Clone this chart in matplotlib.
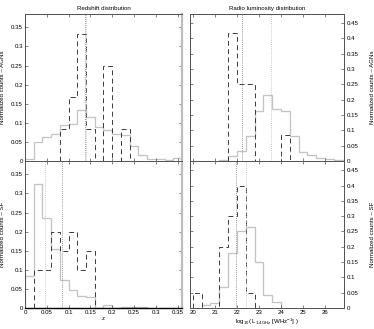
import numpy as np
import matplotlib
matplotlib.use('Agg')
from matplotlib import pyplot as plt

plt.rcParams['font.family'] = ['Liberation Sans', 'DejaVu Sans']
plt.rcParams['mathtext.fontset'] = 'custom'
plt.rcParams['mathtext.rm'] = 'Liberation Sans'
plt.rcParams['mathtext.it'] = 'Liberation Sans:italic'

# redshift bins (width 0.02)
z_parent_agn_start = 0.0
z_parent_agn       = [0.004, 0.050, 0.062, 0.072, 0.093, 0.096, 0.134, 0.115, 0.090,
                      0.081, 0.071, 0.067, 0.039, 0.016, 0.005, 0.005, 0.003, 0.008]
z_sample_agn_start = 0.08
z_sample_agn       = [1/12, 2/12, 4/12, 1/12, 0, 3/12, 0, 1/12]
z_parent_sf_start  = 0.0
z_parent_sf        = [0.085, 0.324, 0.236, 0.154, 0.073, 0.047, 0.032, 0.029, 0.0,
                      0.007, 0.0, 0.003, 0.003, 0.003]
z_sample_sf_start  = 0.02
z_sample_sf        = [0.10, 0.10, 0.20, 0.15, 0.20, 0.10, 0.15]
z_mean_agn         = [0.139, 0.137]   # parent, sample
z_mean_sf          = [0.046, 0.085]

# log10 L_1.4GHz bins (width 0.4)
l_parent_agn_start = 21.2
l_parent_agn       = [0.003, 0.017, 0.033, 0.083, 0.162, 0.217, 0.169, 0.164, 0.081,
                      0.028, 0.020, 0.011, 0.006, 0.003]
l_sample_agn_start = 21.6
l_sample_agn       = [5/12, 3/12, 3/12, 0, 0, 0, 1/12]
l_parent_sf_start  = 20.4
l_parent_sf        = [0.009, 0.015, 0.070, 0.179, 0.252, 0.265, 0.151, 0.041, 0.018]
l_sample_sf_start  = 20.0
l_sample_sf        = [0.05, 0, 0, 0.20, 0.30, 0.40, 0.05]
l_mean_agn         = [23.55, 22.25]
l_mean_sf          = [22.40, 21.95]

z_ticks = [0, 0.05, 0.1, 0.15, 0.2, 0.25, 0.3, 0.35]
l_ticks = [20, 21, 22, 23, 24, 25, 26]
yl_ticks = [0, 0.05, 0.1, 0.15, 0.2, 0.25, 0.3, 0.35]
yr_ticks = [0, 0.05, 0.1, 0.15, 0.2, 0.25, 0.3, 0.35, 0.4, 0.45]

GRAY  = '#c4c4c4'
DARK  = '#3a3a3a'
SPINE = '#505050'
FS    = 4.4


def edges(start, width, n):
    return start + width*np.arange(n+1)


def draw(ax, parent, p_start, sample, s_start, width, means):
    ax.stairs(parent, edges(p_start, width, len(parent)), color=GRAY, lw=0.95)
    ax.stairs(sample, edges(s_start, width, len(sample)), color=DARK, lw=0.7,
              linestyle=(0, (5, 3.5)))
    ax.axvline(means[0], color='#b8b8b8', lw=0.6, linestyle=(0, (1, 1.5)))
    ax.axvline(means[1], color='#777777', lw=0.6, linestyle=(0, (1, 1.5)))


W, H = 374, 329
fig = plt.figure(figsize=(W/100, H/100), dpi=100)

def box(x0, x1, y0, y1):
    return [x0/W, 1-y1/H, (x1-x0)/W, (y1-y0)/H]

ax_za = fig.add_axes(box(25, 182, 14, 161))
ax_zs = fig.add_axes(box(25, 182, 161, 308))
ax_la = fig.add_axes(box(189.5, 344.3, 14, 161))
ax_ls = fig.add_axes(box(189.5, 344.3, 161, 308))

draw(ax_za, z_parent_agn, z_parent_agn_start, z_sample_agn, z_sample_agn_start, 0.02, z_mean_agn)
draw(ax_zs, z_parent_sf, z_parent_sf_start, z_sample_sf, z_sample_sf_start, 0.02, z_mean_sf)
draw(ax_la, l_parent_agn, l_parent_agn_start, l_sample_agn, l_sample_agn_start, 0.4, l_mean_agn)
draw(ax_ls, l_parent_sf, l_parent_sf_start, l_sample_sf, l_sample_sf_start, 0.4, l_mean_sf)

for ax in (ax_za, ax_zs):
    ax.set_xlim(0, 0.36)
    ax.set_ylim(0, 0.385)
    ax.set_xticks(z_ticks)
    ax.set_yticks(yl_ticks)
    ax.set_xticklabels(['0', '0.05', '0.1', '0.15', '0.2', '0.25', '0.3', '0.35'])
    ax.set_yticklabels(['0', '0.05', '0.1', '0.15', '0.2', '0.25', '0.3', '0.35'])
    ax.spines['right'].set_color('#bdbdbd')
    ax.spines['right'].set_linewidth(1.6)

for ax in (ax_la, ax_ls):
    ax.set_xlim(19.85, 26.87)
    ax.set_ylim(0, 0.48)
    ax.set_xticks(l_ticks)
    ax.set_yticks(yr_ticks)
    ax.set_yticklabels(['0', '0.05', '0.1', '0.15', '0.2', '0.25', '0.3', '0.35', '0.4', '0.45'])

for ax in (ax_za, ax_zs, ax_la, ax_ls):
    for side in ('left', 'top', 'bottom'):
        ax.spines[side].set_color(SPINE)
        ax.spines[side].set_linewidth(0.7)
    ax.tick_params(direction='in', length=2, width=0.5, colors=SPINE, labelcolor='black',
                   labelsize=FS, pad=1.5, top=True, right=True, left=True, bottom=True)

for ax in (ax_la, ax_ls):
    ax.spines['right'].set_color(SPINE)
    ax.spines['right'].set_linewidth(0.7)
    ax.tick_params(labelleft=False, labelright=True)
    ax.yaxis.set_label_position('right')

ax_zs.spines['bottom'].set_color('black')
ax_zs.spines['bottom'].set_linewidth(1.0)

ax_za.tick_params(labelbottom=False)
ax_la.tick_params(labelbottom=False)

ax_za.set_title('Redshift distribution', fontsize=FS, pad=3)
ax_la.set_title('Radio luminosity distribution', fontsize=FS, pad=3)

ax_za.set_ylabel('Normalized counts – AGNs', fontsize=FS)
ax_zs.set_ylabel('Normalized counts – SF', fontsize=FS)
ax_la.set_ylabel('Normalized counts – AGNs', fontsize=FS)
ax_ls.set_ylabel('Normalized counts – SF', fontsize=FS)
ax_za.yaxis.set_label_coords(-0.127, 0.5)
ax_zs.yaxis.set_label_coords(-0.127, 0.5)
ax_la.yaxis.set_label_coords(1.168, 0.5)
ax_ls.yaxis.set_label_coords(1.168, 0.5)

ax_zs.set_xlabel('z', fontsize=FS, labelpad=1)
ax_ls.set_xlabel(r'log$_{10}$( L$_{\mathrm{1.4GHz}}$ [WHz$^{-1}$] )', fontsize=FS, labelpad=1)

fig.savefig('out.png', dpi=100)
